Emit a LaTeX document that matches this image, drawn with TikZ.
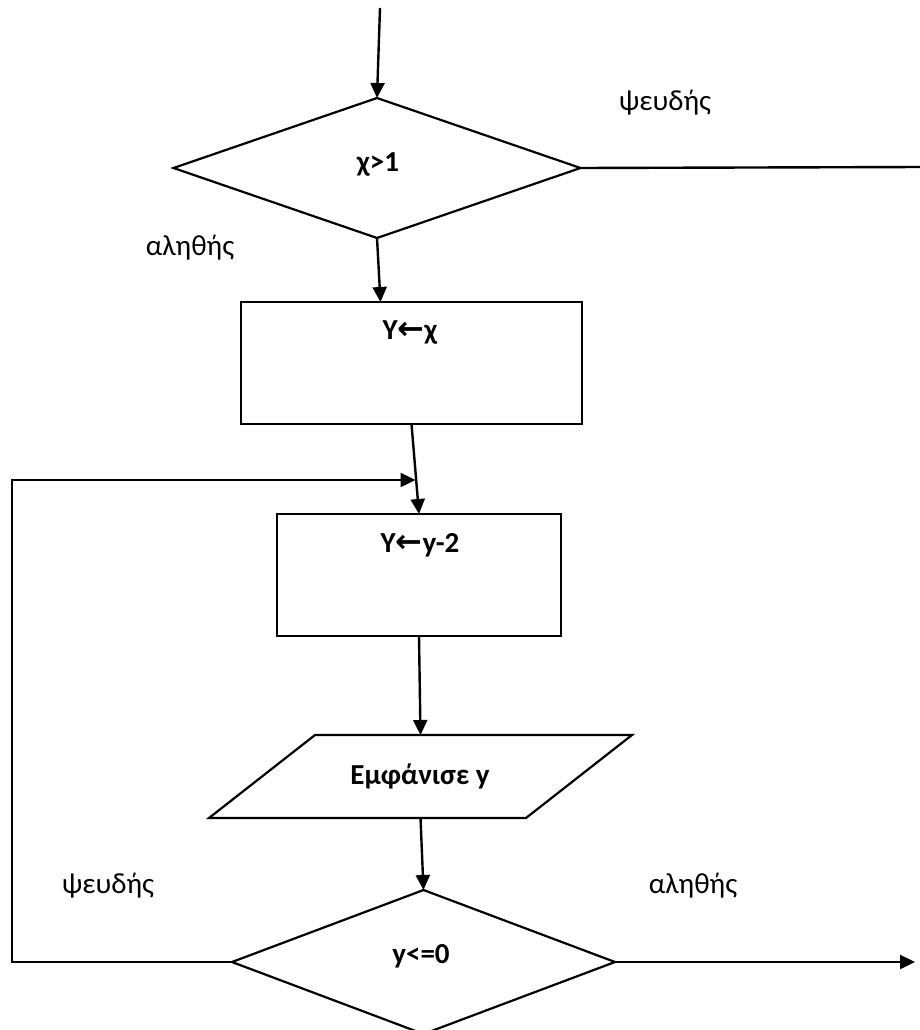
\documentclass[tikz,border=0pt]{standalone}
\usepackage{fontspec}
\setmainfont{Carlito}
\newfontfamily\arrowfont{DejaVu Sans}
\usetikzlibrary{shapes.geometric,arrows.meta}
\tikzset{
  shapeline/.style={draw=black,line width=2.2pt,inner sep=0pt,outer sep=0pt},
  decision/.style={shapeline,diamond},
  procbox/.style={shapeline,rectangle},
  iobox/.style={rectangle,inner sep=0pt,outer sep=0pt},
  ioline/.style={draw=black,line width=2.2pt,line join=miter},
  conn/.style={line width=2.4pt,-{Triangle[length=15pt,width=14pt]}},
  plain/.style={line width=2.4pt},
  lbl/.style={font=\fontsize{29}{34}\selectfont,inner sep=0pt},
  blbl/.style={font=\fontsize{29}{34}\selectfont\bfseries,inner sep=0pt},
}
\newcommand{\larr}{{\arrowfont\bfseries\fontsize{32}{34}\selectfont ←}}
\begin{document}
\begin{tikzpicture}[x=1pt,y=-1pt]
\useasboundingbox (0,0) rectangle (920,1030);
\clip (0,0) rectangle (920,1030);
% shapes
\node[decision,minimum width=407pt,minimum height=140pt] (d1) at (377,168) {};
\node[blbl] (d1t) at (378,164) {χ>1};
\node[procbox,minimum width=341pt,minimum height=122pt] (r1) at (411.5,363) {};
\node[blbl] (r1t) at (410,333) {Y\larr χ};
\node[procbox,minimum width=284pt,minimum height=122pt] (r2) at (419,575) {};
\node[blbl] (r2t) at (420,545) {Y\larr y-2};
\node[iobox,minimum width=317pt,minimum height=83pt] (io) at (420.5,776.5) {};
\draw[ioline] ([xshift=53pt]io.north west) -- ([xshift=53pt]io.north east)
  -- ([xshift=-53pt]io.south east) -- ([xshift=-53pt]io.south west) -- cycle;
\node[blbl] (iot) at (420,776) {Εμφάνισε y};
\node[decision,minimum width=383pt,minimum height=144pt] (d2) at (423.5,962) {};
\node[blbl] (d2t) at (421,956) {y<=0};
% labels
\node[lbl] (f1) at (665,103) {ψευδής};
\node[lbl] (t1) at (190,248) {αληθής};
\node[lbl] (f2) at (108,886) {ψευδής};
\node[lbl] (t2) at (693,886) {αληθής};
% free ends
\coordinate (start) at (380,8);
\coordinate (exit1) at (922,167);
\coordinate (exit2) at (915,962);
\coordinate (lc1) at (12,962);
\coordinate (lc2) at (12,480);
\coordinate (loopend) at (415.5,480);
% connectors
\draw[conn] (start) -- (d1.north);
\draw[plain] (d1.east) -- (exit1);
\draw[conn] (d1.south) -- ([xshift=-31pt]r1.north);
\draw[conn] (r1.south) -- (r2.north);
\draw[conn] (r2.south) -- (io.north);
\draw[conn] (io.south) -- (d2.north);
\draw[conn] (d2.west) -- (lc1) -- (lc2) -- (loopend);
\draw[conn] (d2.east) -- (exit2);
\end{tikzpicture}
\end{document}
